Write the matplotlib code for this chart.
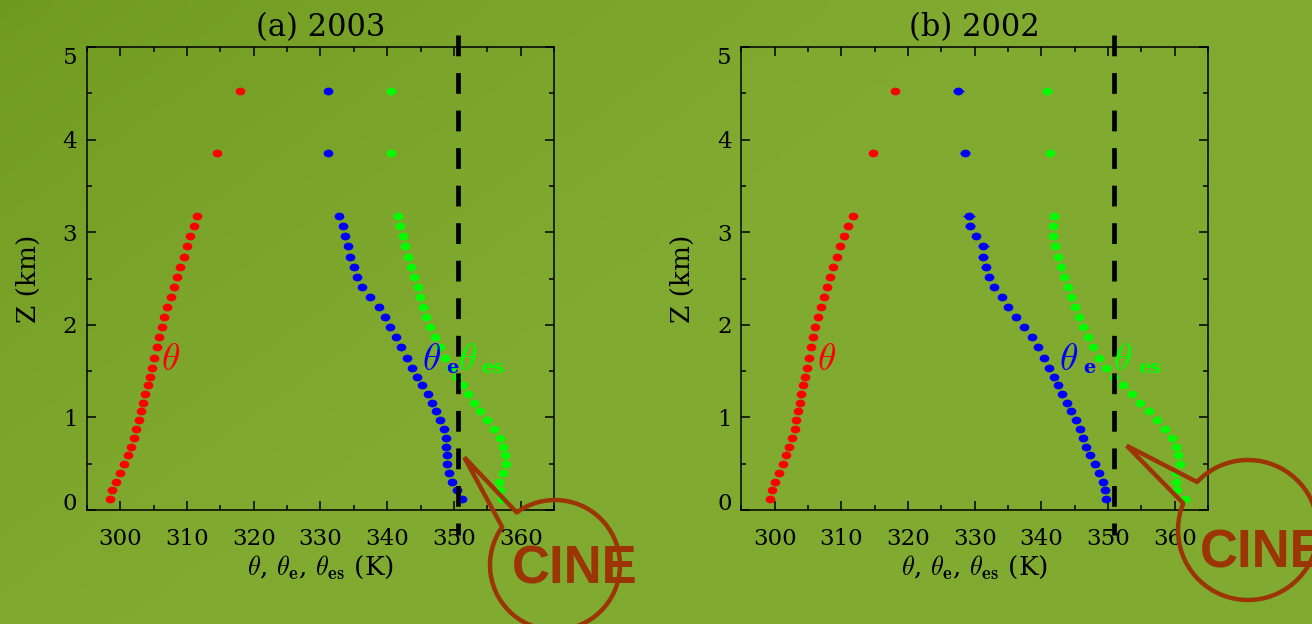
import numpy as np
import matplotlib
matplotlib.use('Agg')
import matplotlib.pyplot as plt
from matplotlib.patches import Arc
from matplotlib.path import Path
from matplotlib.transforms import Affine2D
from matplotlib.ticker import MultipleLocator

plt.rcParams['mathtext.fontset'] = 'cm'
plt.rcParams['font.family'] = 'DejaVu Serif'

# sounding levels (km), two upper levels then the lower profile
Z = [4.53, 3.855, 3.175, 3.063, 2.955, 2.847, 2.736, 2.628, 2.516, 2.408, 2.300,
     2.192, 2.081, 1.973, 1.865, 1.757, 1.645, 1.537, 1.440, 1.346, 1.253, 1.159,
     1.066, 0.972, 0.875, 0.781, 0.684, 0.590, 0.497, 0.403, 0.306, 0.212, 0.119]

# 2003
theta_03 = [317.9, 314.45, 311.55, 311.0, 310.5, 309.95, 309.5, 309.0, 308.5, 308.05, 307.55,
            307.05, 306.6, 306.2, 305.8, 305.45, 305.1, 304.75, 304.4, 304.1, 303.75, 303.4,
            303.05, 302.75, 302.4, 302.05, 301.6, 301.1, 300.6, 300.0, 299.35, 298.8, 298.45]
theta_e_03 = [331.15, 331.05, 332.75, 333.3, 333.65, 334.05, 334.4, 335.05, 335.4, 336.15, 337.4,
              338.7, 339.6, 340.45, 341.3, 342.1, 342.95, 343.7, 344.4, 345.2, 346.05, 346.75,
              347.35, 347.9, 348.45, 348.8, 348.85, 348.9, 349.0, 349.25, 349.75, 350.4, 351.2]
theta_es_03 = [340.55, 340.55, 341.6, 341.9, 342.3, 342.7, 343.15, 343.55, 344.05, 344.55, 344.9,
               345.3, 345.8, 346.4, 347.1, 347.9, 348.65, 349.5, 350.5, 351.4, 352.15, 353.0,
               353.9, 355.0, 356.05, 356.9, 357.3, 357.65, 357.8, 357.4, 356.7, 356.9, 357.15]
err_e_03 = [0] * 32 + [0.4]
err_es_03 = [0] * 28 + [0.5, 0, 0, 0, 0]

# 2002
theta_02 = [318.1, 314.75, 311.8, 310.95, 310.35, 309.8, 309.3, 308.8, 308.3, 307.85, 307.35,
            306.9, 306.5, 306.1, 305.75, 305.4, 305.1, 304.85, 304.55, 304.3, 304.0, 303.75,
            303.5, 303.25, 303.0, 302.6, 302.2, 301.75, 301.2, 300.65, 300.05, 299.55, 299.3]
theta_e_02 = [327.55, 328.55, 329.1, 329.3, 330.2, 331.3, 331.25, 331.65, 332.1, 332.95, 334.1,
              335.05, 336.25, 337.45, 338.55, 339.5, 340.35, 341.15, 341.85, 342.55, 343.15, 343.85,
              344.5, 345.2, 345.75, 346.2, 346.75, 347.3, 348.0, 348.7, 349.25, 349.6, 349.65]
theta_es_02 = [340.9, 341.25, 341.95, 341.7, 341.7, 342.0, 342.45, 342.95, 343.4, 343.95, 344.45,
               345.05, 345.65, 346.25, 346.95, 347.8, 348.7, 349.75, 350.9, 352.3, 353.55, 354.85,
               356.1, 357.35, 358.6, 359.6, 360.2, 360.55, 360.8, 360.2, 360.2, 360.4, 361.6]
err_e_02 = [0.8, 0.7, 0.9, 0.8, 0.6, 0.8, 0.7, 0.7, 0.6, 0.5] + [0] * 23
err_es_02 = [0] * 27 + [0.7, 0.8, 0, 0, 0.5, 0.7]

titles = ['(a) 2003', '(b) 2002']
lfc_line = [350.55, 350.9]
# left edges of the curve labels (theta, theta_e, theta_es) and their subscripts
label_x = [[306.15, 345.15, 350.65], [306.3, 342.65, 350.7]]
sub_x = [[348.8, 354.15], [346.3, 354.55]]

red, blue, green = '#ff0000', '#0000ff', '#00ff00'
brown = '#9c3506'

W, H = 1312, 624
fig = plt.figure(figsize=(W / 100, H / 100), dpi=100)

# green backdrop, darker toward the upper left
bg = fig.add_axes([0, 0, 1, 1], zorder=-10)
yy, xx = np.mgrid[0:1:63j, 0:1:132j]
t = np.clip((0.6 * xx + 0.4 * yy) / 0.45, 0, 1) ** 0.7
dark = np.array([0x6e, 0x9a, 0x1e]) / 255
light = np.array([0x80, 0xaa, 0x30]) / 255
img = dark + (light - dark) * t[..., None]
bg.imshow(img, extent=[0, W, H, 0], aspect='auto', interpolation='bilinear')
bg.axis('off')

dot = Path.unit_circle().transformed(Affine2D().scale(1.25, 1.0))

boxes = [[87 / W, 114 / H, 467 / W, 463 / H], [741.3 / W, 114 / H, 466.7 / W, 463 / H]]
series = [(theta_03, theta_e_03, theta_es_03, err_e_03, err_es_03),
          (theta_02, theta_e_02, theta_es_02, err_e_02, err_es_02)]

for i in range(2):
    ax = fig.add_axes(boxes[i])
    ax.set_facecolor('none')
    th, the, thes, ee, ees = series[i]

    ax.errorbar(the, Z, xerr=ee, fmt='none', ecolor=blue, elinewidth=1.0)
    ax.errorbar(thes, Z, xerr=ees, fmt='none', ecolor=green, elinewidth=1.0)
    ax.plot(th, Z, ls='none', marker=dot, ms=7.0, color=red, mec='none')
    ax.plot(the, Z, ls='none', marker=dot, ms=7.0, color=blue, mec='none')
    ax.plot(thes, Z, ls='none', marker=dot, ms=7.0, color=green, mec='none')

    ax.plot([lfc_line[i], lfc_line[i]], [5.13, -0.27], color='black', lw=3.4,
            ls=(0, (4.4, 3.55)), clip_on=False, zorder=3)

    lx = label_x[i]
    ax.text(lx[0], 1.515, r'$\theta$', color=red, fontsize=27, ha='left', va='baseline', zorder=4)
    ax.text(lx[1], 1.515, r'$\theta$', color=blue, fontsize=27, ha='left', va='baseline', zorder=4)
    ax.text(lx[2], 1.515, r'$\theta$', color=green, fontsize=27, ha='left', va='baseline', zorder=4)
    ax.text(sub_x[i][0], 1.48, 'e', color=blue, fontsize=14, fontweight='bold',
            ha='left', va='baseline', zorder=4)
    ax.text(sub_x[i][1], 1.48, 'es', color=green, fontsize=14, fontweight='bold',
            ha='left', va='baseline', zorder=4)

    ax.set_xlim(295, 365)
    ax.set_ylim(0, 5)
    ax.set_xticks([300, 310, 320, 330, 340, 350, 360])
    ax.xaxis.set_minor_locator(MultipleLocator(5))
    ax.set_yticks([0, 1, 2, 3, 4, 5])
    ax.yaxis.set_minor_locator(MultipleLocator(0.5))
    ax.tick_params(which='both', direction='in', top=True, right=True, width=1.1,
                   labelsize=16.5, colors='black')
    ax.tick_params(which='major', length=6.8)
    ax.tick_params(which='minor', length=3.6)
    ax.tick_params(axis='x', pad=13)
    ax.tick_params(axis='y', pad=7)
    for s in ax.spines.values():
        s.set_linewidth(1.1)
    yt = ax.yaxis.get_major_ticks()
    yt[0].label1.set_va('baseline')
    yt[-1].label1.set_va('top')

    ax.set_title(titles[i], fontsize=22, pad=8)
    ax.set_xlabel(r'$\theta$, $\theta_{\mathbf{e}}$, $\theta_{\mathbf{es}}$ (K)', fontsize=19,
                  labelpad=2)
    ax.set_ylabel('Z (km)', fontsize=19, labelpad=16)

# CINE call-outs drawn in pixel space on top of everything
fg = fig.add_axes([0, 0, 1, 1], zorder=10)
fg.set_xlim(0, W)
fg.set_ylim(0, H)
fg.axis('off')
fg.patch.set_alpha(0)

bubbles = [((555, 59), 65, 144.3, 126.1, (464.3, 166.7), (512, 41)),
           ((1248, 94), 70, 157.6, 136.7, (1126.7, 178.3), (1200, 57))]
for (cx, cy), r, a1, a2, tip, txt in bubbles:
    fg.add_patch(Arc((cx, cy), 2 * r, 2 * r, theta1=a1, theta2=a2, color=brown, lw=3.2))
    p1 = (cx + r * np.cos(np.radians(a1)), cy + r * np.sin(np.radians(a1)))
    p2 = (cx + r * np.cos(np.radians(a2)), cy + r * np.sin(np.radians(a2)))
    fg.plot([p1[0], tip[0], p2[0]], [p1[1], tip[1], p2[1]], color=brown, lw=3.2,
            solid_joinstyle='miter', solid_capstyle='round')
    fg.text(txt[0], txt[1], 'CINE', color=brown, fontsize=38, fontweight='bold',
            family='Liberation Sans', ha='left', va='baseline')

fig.savefig('out.png', dpi=100)
